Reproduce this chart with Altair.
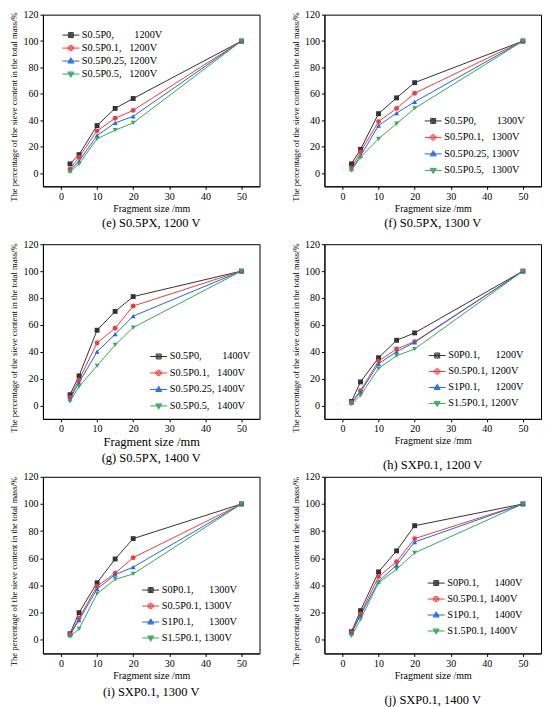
import altair as alt
import pandas as pd

NB = "\u00a0"
sizes = [2.5, 5, 10, 15, 20, 50]
colors = ["#333333", "#f43a3a", "#2166ee", "#36a85a"]

# (e) S0.5PX, 1200 V
e_labels = ["S0.5P0," + NB * 8 + "1200V", "S0.5P0.1," + NB * 3 + "1200V",
            "S0.5P0.25, 1200V", "S0.5P0.5," + NB * 3 + "1200V"]
e_p0 = [7, 14, 36, 49, 56.5, 100]
e_p01 = [3, 12, 32, 41.5, 47.5, 100]
e_p025 = [2, 9, 28.5, 38, 43, 100]
e_p05 = [1, 7, 26, 32.5, 38, 100]

# (f) S0.5PX, 1300 V
f_labels = ["S0.5P0," + NB * 8 + "1300V", "S0.5P0.1," + NB * 3 + "1300V",
            "S0.5P0.25, 1300V", "S0.5P0.5," + NB * 3 + "1300V"]
f_p0 = [7, 18, 45, 57, 68.5, 100]
f_p01 = [4, 16, 39, 49, 60.5, 100]
f_p025 = [3, 13, 36, 45.5, 54, 100]
f_p05 = [2, 12, 26, 37.5, 49, 100]

# (g) S0.5PX, 1400 V
g_labels = ["S0.5P0," + NB * 8 + "1400V", "S0.5P0.1," + NB * 3 + "1400V",
            "S0.5P0.25, 1400V", "S0.5P0.5," + NB * 3 + "1400V"]
g_p0 = [8, 22, 56, 70, 81, 100]
g_p01 = [6, 19, 46.5, 57.5, 74, 100]
g_p025 = [5, 17, 40, 53, 66.5, 100]
g_p05 = [3, 14, 29.5, 45, 58, 100]

# (h) SXP0.1, 1200 V
h_labels = ["S0P0.1," + NB * 6 + "1200V", "S0.5P0.1, 1200V",
            "S1P0.1," + NB * 6 + "1200V", "S1.5P0.1, 1200V"]
h_s0 = [3, 17.5, 35.5, 48.5, 54, 100]
h_s05 = [2.5, 11, 33, 42, 47.5, 100]
h_s1 = [2, 10, 31, 40, 47, 100]
h_s15 = [1, 7.5, 27.5, 37, 42, 100]

# (i) SXP0.1, 1300 V
i_labels = ["S0P0.1," + NB * 6 + "1300V", "S0.5P0.1, 1300V",
            "S1P0.1," + NB * 6 + "1300V", "S1.5P0.1, 1300V"]
i_s0 = [4.5, 20, 42, 59.5, 74.5, 100]
i_s05 = [4, 16, 39.5, 49, 60.5, 100]
i_s1 = [3.5, 14.5, 37.5, 48, 53.5, 100]
i_s15 = [2.5, 8, 34, 44.5, 48.5, 100]

# (j) SXP0.1, 1400 V
j_labels = ["S0P0.1," + NB * 6 + "1400V", "S0.5P0.1, 1400V",
            "S1P0.1," + NB * 6 + "1400V", "S1.5P0.1, 1400V"]
j_s0 = [6, 21.5, 50, 65.5, 84, 100]
j_s05 = [5.5, 19, 46.5, 57.5, 74.5, 100]
j_s1 = [5, 18, 43, 55, 72, 100]
j_s15 = [3, 15, 42, 52, 64, 100]

FONT = "Liberation Serif"
YTITLE = "The percentage of the sieve content in the total mass/%"
SHAPES = ["square", "circle", "triangle-up", "triangle-down"]


# legend glyphs: a short line with a (solid looking) marker drawn as nested outlines
def poly(pts, k):
    return "M" + "L".join("%.3f,%.3f" % (px * k, py * k) for px, py in pts) + "Z"


def glyph(pts):
    return "M-1.7,0H1.7" + "".join(poly(pts, k) for k in (1.0, 0.6, 0.2))


def circ(r):
    return "M%.3f,0A%.3f,%.3f,0,1,0,%.3f,0A%.3f,%.3f,0,1,0,%.3f,0Z" % (-r, r, r, r, r, r, -r)


LEG_SHAPES = [
    glyph([(-0.5, -0.5), (0.5, -0.5), (0.5, 0.5), (-0.5, 0.5)]),
    "M-1.7,0H1.7" + circ(0.55) + circ(0.33) + circ(0.11),
    glyph([(0, -0.65), (0.6, 0.4), (-0.6, 0.4)]),
    glyph([(0, 0.65), (0.6, -0.4), (-0.6, -0.4)]),
]


def panel(labels, series, caption, w, h, lx, ly, rowpad, xts, cap_off):
    rows = []
    for lab, vs in zip(labels, series):
        for s, v in zip(sizes, vs):
            rows.append({"size": s, "val": v, "lab": lab})
    df = pd.DataFrame(rows)
    base = alt.Chart(df)
    x = alt.X("size:Q", scale=alt.Scale(domain=[-5, 55], nice=False),
              axis=alt.Axis(values=[0, 10, 20, 30, 40, 50], title="Fragment size  /mm",
                            titleFontSize=xts, titlePadding=2))
    y = alt.Y("val:Q", scale=alt.Scale(domain=[-10, 120], nice=False),
              axis=alt.Axis(values=[0, 20, 40, 60, 80, 100, 120], title=YTITLE,
                            titleFontSize=8.6, titlePadding=4, titleY=h / 2 + 6))
    cscale = alt.Scale(domain=labels, range=colors)
    line = base.mark_line(strokeWidth=1).encode(
        x=x, y=y, color=alt.Color("lab:N", scale=cscale, legend=None))
    pts = base.mark_point(filled=True, size=24, opacity=1).encode(
        x=x, y=y, color=alt.Color("lab:N", scale=cscale, legend=None),
        shape=alt.Shape("lab:N", scale=alt.Scale(domain=labels, range=SHAPES), legend=None))
    leg = alt.Legend(orient="none", legendX=lx + 3.5, legendY=ly, title=None,
                     labelFont=FONT, labelFontSize=10.3, labelColor="black",
                     labelOffset=5.5, rowPadding=rowpad, symbolSize=100,
                     symbolStrokeWidth=1, symbolOpacity=1, padding=0)
    lg = base.mark_point(filled=False, opacity=0, size=100, strokeWidth=1).encode(
        x=x, y=y,
        color=alt.Color("lab:N", scale=cscale, legend=leg),
        shape=alt.Shape("lab:N", scale=alt.Scale(domain=labels, range=LEG_SHAPES), legend=leg))
    return alt.layer(line, pts, lg).resolve_scale(
        color="independent", shape="independent"
    ).properties(
        width=w, height=h,
        title=alt.TitleParams(caption, orient="bottom", font=FONT, fontSize=12.5,
                              fontWeight="normal", color="black", offset=cap_off),
    )


pe = panel(e_labels, [e_p0, e_p01, e_p025, e_p05], "(e) S0.5PX, 1200 V", 217, 172, 19, 15, 2, 10, 4)
pf = panel(f_labels, [f_p0, f_p01, f_p025, f_p05], "(f) S0.5PX, 1300 V", 217, 172, 100, 101, 5.5, 10, 4)
pg = panel(g_labels, [g_p0, g_p01, g_p025, g_p05], "(g) S0.5PX, 1400 V", 217, 175, 107, 107, 5.5, 12.5, 4)
ph = panel(h_labels, [h_s0, h_s05, h_s1, h_s15], "(h) SXP0.1, 1200 V", 217, 175, 104, 106, 5, 10, 13)
pi = panel(i_labels, [i_s0, i_s05, i_s1, i_s15], "(i) SXP0.1, 1300 V", 217, 177, 99, 108, 5, 10, 6)
pj = panel(j_labels, [j_s0, j_s05, j_s1, j_s15], "(j) SXP0.1, 1400 V", 217, 177, 103, 101, 5, 10, 14)

res = dict(color="independent", shape="independent")
chart = alt.concat(pe, pf, pg, ph, pi, pj, columns=2, spacing={"row": 58, "column": 65},
                   bounds="flush").resolve_scale(**res).properties(
    padding={"left": 1, "top": 0, "right": 0, "bottom": 0}, background="white"
).configure_view(stroke="black", strokeWidth=1).configure_axis(
    grid=False, domainColor="black", tickColor="black", tickSize=3, labelPadding=2,
    labelFont=FONT, labelFontSize=10, labelColor="black", titleFont=FONT,
    titleFontWeight="normal", titleColor="black",
)

chart.save("out.html", embed_options={"renderer": "svg", "actions": False})
